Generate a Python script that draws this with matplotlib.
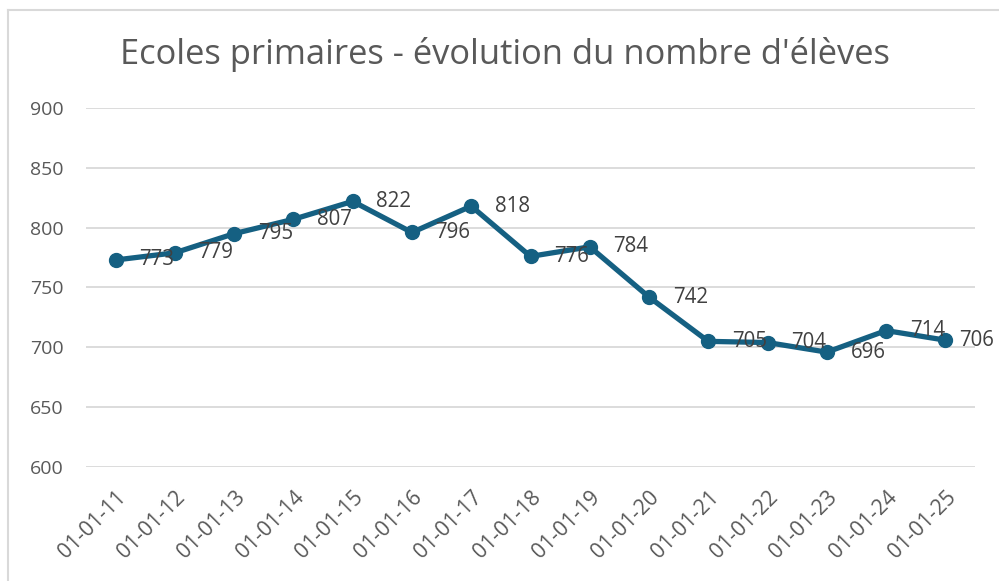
import matplotlib
matplotlib.use("Agg")
import matplotlib.pyplot as plt
from matplotlib.lines import Line2D

categories = ["01-01-11", "01-01-12", "01-01-13", "01-01-14", "01-01-15",
              "01-01-16", "01-01-17", "01-01-18", "01-01-19", "01-01-20",
              "01-01-21", "01-01-22", "01-01-23", "01-01-24", "01-01-25"]
values = [773, 779, 795, 807, 822, 796, 818, 776, 784, 742, 705, 704, 696, 714, 706]
yticks = [600, 650, 700, 750, 800, 850, 900]
title = "Ecoles primaires - évolution du nombre d'élèves"

plt.rcParams['font.family'] = ['Open Sans', 'DejaVu Sans']

fig = plt.figure(figsize=(9.99, 5.81), dpi=100)
fig.patch.set_facecolor("white")
# chart border (only top and left visible in the crop)
fig.add_artist(Line2D([8/999, 1.0], [1 - 10/581, 1 - 10/581], transform=fig.transFigure,
                      color="#d9d9d9", linewidth=1.5))
fig.add_artist(Line2D([8/999, 8/999], [0, 1 - 10/581], transform=fig.transFigure,
                      color="#d9d9d9", linewidth=1.5))

ax = fig.add_axes([86/999, 1 - 467/581, (975-86)/999, (467-108)/581])
x = list(range(len(categories)))
ax.plot(x, values, color="#156082", linewidth=3.8, marker="o", markersize=10,
        solid_joinstyle="round", zorder=3)
n = len(values)
for xi, v in zip(x, values):
    off = 17 if xi < n - 1 else 10
    ax.annotate(str(v), (xi, v), xytext=(off, 0), textcoords="offset points",
                ha="left", va="center", fontsize=14.8, color="#404040", zorder=4,
                annotation_clip=False)

ax.set_xlim(-0.5, n - 0.5)
ax.set_ylim(600, 900)
ax.set_yticks(yticks)
ax.set_yticklabels([str(t) for t in yticks], fontsize=14, color="#595959")
ax.set_xticks(x)
ax.set_xticklabels(categories, rotation=45, ha="right", rotation_mode="anchor",
                   fontsize=15.2, color="#595959")
ax.tick_params(axis="y", length=0, pad=16)
ax.tick_params(axis="x", length=0, pad=14)
ax.grid(axis="y", color="#d9d9d9", linewidth=1.3)
ax.set_axisbelow(True)
for s in ax.spines.values():
    s.set_visible(False)

fig.text(505/999, 1 - 55/581, title, ha="center", va="center", fontsize=24.8, color="#595959")

fig.savefig("out.png", dpi=100)
